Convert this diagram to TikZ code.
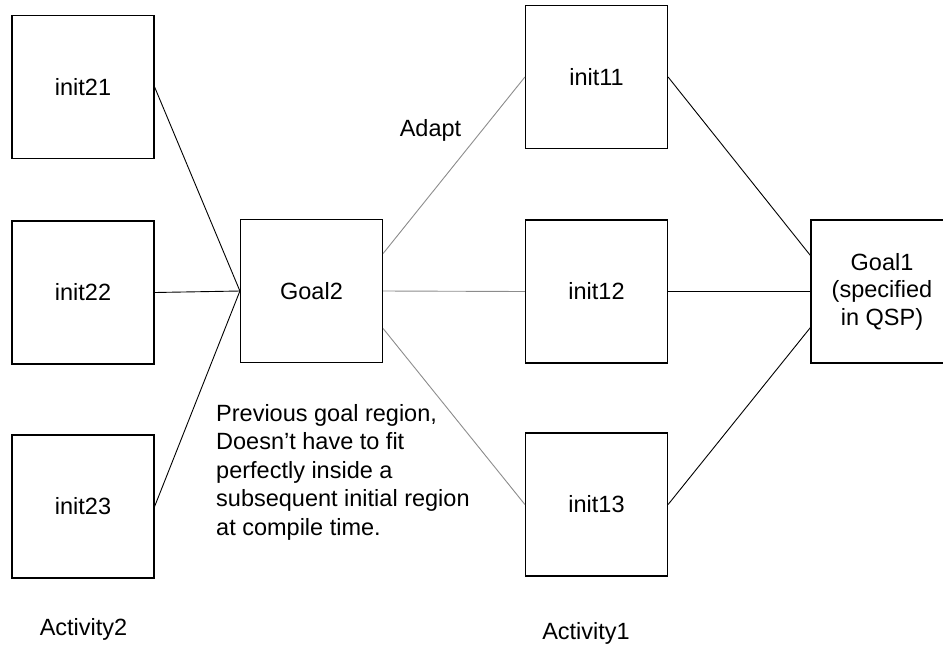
\documentclass[tikz,border=0pt]{standalone}
\usepackage{fontspec}
\setmainfont{Liberation Sans}
\usetikzlibrary{calc}
\begin{document}
\begin{tikzpicture}[x=1pt,y=-1pt,
  box/.style={draw=black, line width=1.2pt, minimum width=142pt, minimum height=143pt, inner sep=0pt, font=\fontsize{23.5}{27.5}\selectfont, align=center},
  dark/.style={draw=black, line width=0.9pt},
  light/.style={draw=black!45, line width=0.9pt},
  lbl/.style={font=\fontsize{23.5}{28.5}\selectfont, inner sep=0pt}]
\useasboundingbox (0,0) rectangle (943,649);
\node[box] (i21) at (83,87) {init21};
\node[box] (i22) at (83,292.5) {init22};
\node[box] (i23) at (83,506.5) {init23};
\node[box] (g2) at (311.5,291) {Goal2};
\node[box] (i11) at (596.5,77) {init11};
\node[box] (i12) at (596.5,291.5) {init12};
\node[box] (i13) at (596.5,504.5) {init13};
\node[box] (g1) at (882,291.5) {Goal1\\(specified\\in QSP)};
\draw[dark] (i21.east) -- (g2.west);
\draw[dark] (i22.east) -- (g2.west);
\draw[dark] (i23.east) -- (g2.west);
\draw[light] ($(g2.east)!0.52!(g2.north east)$) -- (i11.west);
\draw[light] (g2.east) -- (i12.west);
\draw[light] ($(g2.east)!0.52!(g2.south east)$) -- (i13.west);
\draw[dark] (i11.east) -- ($(g1.west)!0.5!(g1.north west)$);
\draw[dark] (i12.east) -- (g1.west);
\draw[dark] (i13.east) -- ($(g1.west)!0.5!(g1.south west)$);
\node[lbl] (adapt) at (430.5,130) {Adapt};
\node[lbl, align=left, anchor=west] (note) at (216,472) {Previous goal region,\\Doesn’t have to fit\\perfectly inside a\\subsequent initial region\\at compile time.};
\node[lbl] (act2) at (83.5,629) {Activity2};
\node[lbl] (act1) at (586,633) {Activity1};
\end{tikzpicture}
\end{document}
